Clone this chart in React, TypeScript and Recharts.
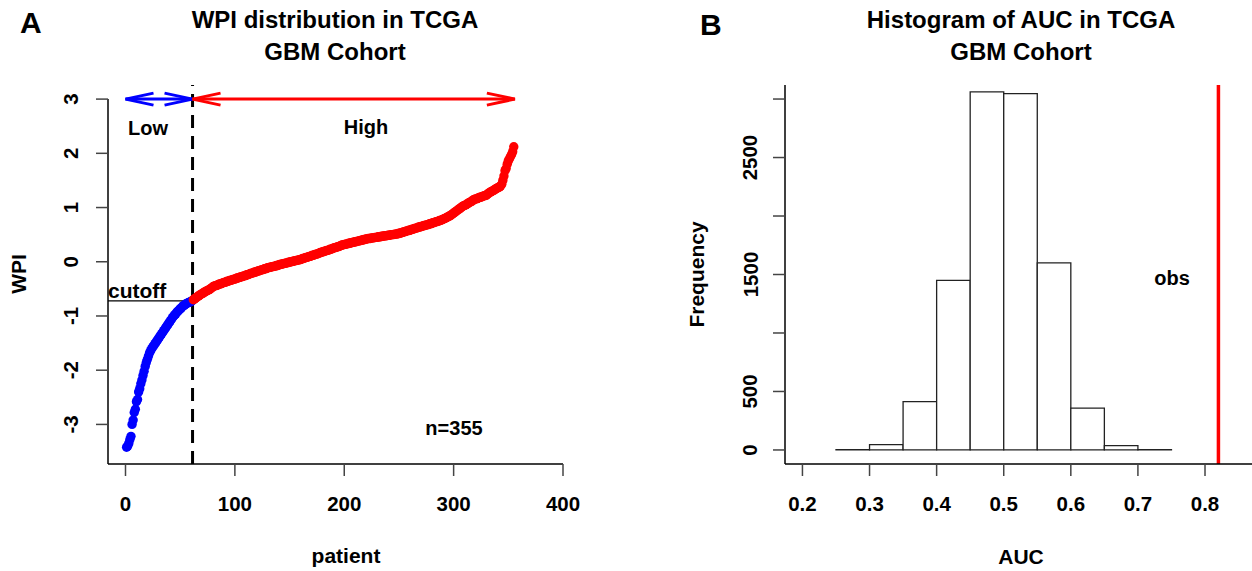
import {
	ComposedChart,
	ReferenceArea,
	ReferenceLine,
	Scatter,
	ScatterChart,
	XAxis,
	YAxis,
} from 'recharts'

const FONT = '"Liberation Sans", Arial, Helvetica, sans-serif'

// sorted WPI per patient (1..355)
const wpiSorted = [
	-3.42, -3.4, -3.35, -3.28, -3.22, -3.0, -2.92, -2.78, -2.72, -2.58,
	-2.54, -2.4, -2.34, -2.25, -2.18, -2.1, -2.02, -1.93, -1.86, -1.8,
	-1.74, -1.68, -1.64, -1.6, -1.57, -1.54, -1.51, -1.48, -1.45, -1.42,
	-1.39, -1.36, -1.33, -1.3, -1.27, -1.24, -1.21, -1.18, -1.15, -1.12,
	-1.09, -1.06, -1.03, -1.0, -0.98, -0.96, -0.93, -0.91, -0.89, -0.87,
	-0.85, -0.83, -0.81, -0.8, -0.78, -0.77, -0.76, -0.75, -0.74, -0.73,
	-0.72,
	-0.7, -0.69, -0.67, -0.66, -0.64, -0.63, -0.61, -0.6, -0.59,
	-0.58, -0.56, -0.55, -0.54, -0.53, -0.52, -0.51, -0.49, -0.48, -0.46,
	-0.45, -0.44, -0.44, -0.43, -0.42, -0.41, -0.41, -0.4, -0.39, -0.38,
	-0.38, -0.37, -0.36, -0.36, -0.35, -0.34, -0.34, -0.33, -0.32, -0.32,
	-0.31, -0.3, -0.3, -0.29, -0.28, -0.28, -0.27, -0.26, -0.26, -0.25,
	-0.24, -0.24, -0.23, -0.22, -0.21, -0.21, -0.2, -0.19, -0.19, -0.18,
	-0.17, -0.17, -0.16, -0.15, -0.15, -0.14, -0.13, -0.13, -0.12, -0.11,
	-0.11, -0.1, -0.1, -0.09, -0.09, -0.08, -0.08, -0.07, -0.07, -0.06,
	-0.05, -0.05, -0.04, -0.04, -0.03, -0.03, -0.02, -0.02, -0.01, -0.01,
	0.0, 0.0, 0.01, 0.01, 0.02, 0.02, 0.03, 0.03, 0.04, 0.04,
	0.05, 0.06, 0.06, 0.07, 0.08, 0.08, 0.09, 0.1, 0.1, 0.11,
	0.12, 0.12, 0.13, 0.14, 0.14, 0.15, 0.16, 0.17, 0.17, 0.18,
	0.19, 0.19, 0.2, 0.21, 0.21, 0.22, 0.23, 0.23, 0.24, 0.25,
	0.26, 0.26, 0.27, 0.28, 0.28, 0.29, 0.3, 0.31, 0.31, 0.32,
	0.32, 0.33, 0.33, 0.34, 0.34, 0.35, 0.35, 0.36, 0.36, 0.37,
	0.37, 0.38, 0.38, 0.39, 0.39, 0.4, 0.4, 0.41, 0.41, 0.42,
	0.42, 0.43, 0.43, 0.43, 0.44, 0.44, 0.44, 0.45, 0.45, 0.45,
	0.46, 0.46, 0.46, 0.47, 0.47, 0.47, 0.48, 0.48, 0.48, 0.49,
	0.49, 0.49, 0.5, 0.5, 0.5, 0.51, 0.51, 0.51, 0.52, 0.52,
	0.53, 0.53, 0.54, 0.55, 0.55, 0.56, 0.57, 0.57, 0.58, 0.58,
	0.59, 0.6, 0.6, 0.61, 0.62, 0.62, 0.63, 0.64, 0.64, 0.65,
	0.65, 0.66, 0.67, 0.67, 0.68, 0.68, 0.69, 0.7, 0.7, 0.71,
	0.72, 0.72, 0.73, 0.74, 0.74, 0.75, 0.76, 0.76, 0.77, 0.78,
	0.79, 0.8, 0.81, 0.82, 0.83, 0.84, 0.85, 0.87, 0.88, 0.9,
	0.91, 0.93, 0.94, 0.96, 0.97, 0.99, 1.0, 1.02, 1.03, 1.04,
	1.05, 1.06, 1.07, 1.09, 1.1, 1.11, 1.12, 1.14, 1.15, 1.16,
	1.16, 1.17, 1.18, 1.19, 1.19, 1.2, 1.21, 1.22, 1.22, 1.23,
	1.25, 1.26, 1.28, 1.29, 1.3, 1.31, 1.32, 1.34, 1.35, 1.36,
	1.37, 1.38, 1.4, 1.43, 1.5, 1.58, 1.68, 1.72, 1.8, 1.86,
	1.9, 1.94, 1.98, 2.03, 2.12,
]
const lowCount = 61
const cutoffPatient = 61.3
const cutoffWpi = -0.72
const patientTicks = [0, 100, 200, 300, 400]
const wpiTicks = [-3, -2, -1, 0, 1, 2, 3]

// permutation AUC histogram (bins of 0.05)
const aucBinStarts = [0.25, 0.3, 0.35, 0.4, 0.45, 0.5, 0.55, 0.6, 0.65, 0.7]
const aucBinCounts = [3, 45, 414, 1449, 3061, 3047, 1600, 357, 37, 3]
const aucBinWidth = 0.05
const observedAuc = 0.82
const aucTicks = [0.2, 0.3, 0.4, 0.5, 0.6, 0.7, 0.8]
const freqTicks = [0, 500, 1000, 1500, 2000, 2500, 3000]
const freqLabels = [0, 500, 1500, 2500]

const points = wpiSorted.map((wpi, i) => ({ patient: i + 1, wpi }))
const lowPoints = points.slice(0, lowCount)
const highPoints = points.slice(lowCount)
const bins = aucBinStarts.map((start, i) => ({
	start,
	end: start + aucBinWidth,
	mid: start + aucBinWidth / 2,
	count: aucBinCounts[i],
}))

const dot = (color: string) => (p: any) => (
	<circle cx={p.cx} cy={p.cy} r={4.7} fill={color} />
)

const arrow = (color: string) => (p: any) => {
	const { x1, y1, x2, y2 } = p
	const len = 28
	const half = 6
	return (
		<g stroke={color} strokeWidth={3} fill='none'>
			<line x1={x1} y1={y1} x2={x2} y2={y2} />
			<polyline points={`${x1 + len},${y1 - half} ${x1},${y1} ${x1 + len},${y1 + half}`} />
			<polyline points={`${x2 - len},${y2 - half} ${x2},${y2} ${x2 - len},${y2 + half}`} />
		</g>
	)
}

const bottomTick = (p: any) => (
	<text
		x={p.x}
		y={p.y + 33}
		textAnchor='middle'
		style={{ fontFamily: FONT, fontSize: 20.5, fontWeight: 700, fill: '#000' }}
	>
		{p.payload.value}
	</text>
)

const leftTick = (labelX: number, shown?: number[]) => (p: any) => {
	const v = p.payload.value
	if (shown && !shown.includes(v)) return <g />
	return (
		<text
			x={labelX}
			y={p.y}
			transform={`rotate(-90, ${labelX}, ${p.y})`}
			textAnchor='middle'
			dominantBaseline='central'
			style={{ fontFamily: FONT, fontSize: 20.5, fontWeight: 700, fill: '#000' }}
		>
			{v}
		</text>
	)
}

const WpiPanel = () => (
	<ScatterChart
		width={600}
		height={571}
		margin={{ top: 85, right: 37, bottom: 67, left: 48 }}
	>
		<XAxis
			type='number'
			dataKey='patient'
			domain={[-16, 400]}
			allowDataOverflow
			ticks={patientTicks}
			height={40}
			tickSize={12}
			axisLine={{ stroke: '#000', strokeWidth: 1.5 }}
			tickLine={{ stroke: '#444', strokeWidth: 1.5 }}
			tick={bottomTick}
		/>
		<YAxis
			type='number'
			dataKey='wpi'
			domain={[-3.73, 3.26]}
			allowDataOverflow
			ticks={wpiTicks}
			width={60}
			tickSize={12}
			axisLine={false}
			tickLine={{ stroke: '#444', strokeWidth: 1.5 }}
			tick={leftTick(70.5)}
		/>
		<ReferenceLine
			segment={[
				{ x: -16, y: 3 },
				{ x: -16, y: -3.73 },
			]}
			stroke='#000'
			strokeWidth={1.5}
			ifOverflow='visible'
		/>
		<ReferenceLine
			segment={[
				{ x: -16, y: cutoffWpi },
				{ x: cutoffPatient, y: cutoffWpi },
			]}
			stroke='#000'
			strokeWidth={1.3}
			ifOverflow='visible'
		/>
		<Scatter data={lowPoints} isAnimationActive={false} shape={dot('#0000ff')} />
		<Scatter data={highPoints} isAnimationActive={false} shape={dot('#ff0000')} />
		<ReferenceLine
			x={cutoffPatient}
			stroke='#000'
			strokeWidth={3}
			strokeDasharray='13 8'
			ifOverflow='visible'
		/>
		<ReferenceLine
			segment={[
				{ x: 0, y: 3 },
				{ x: cutoffPatient, y: 3 },
			]}
			ifOverflow='visible'
			shape={arrow('#0000ff')}
		/>
		<ReferenceLine
			segment={[
				{ x: cutoffPatient, y: 3 },
				{ x: 356, y: 3 },
			]}
			ifOverflow='visible'
			shape={arrow('#ff0000')}
		/>
	</ScatterChart>
)

const AucPanel = () => (
	<ComposedChart
		width={640}
		height={571}
		data={bins}
		margin={{ top: 85, right: 24, bottom: 67, left: 85 }}
	>
		<XAxis
			type='number'
			dataKey='mid'
			domain={[0.174, 0.876]}
			allowDataOverflow
			ticks={aucTicks}
			height={40}
			tickSize={12}
			axisLine={{ stroke: '#000', strokeWidth: 1.5 }}
			tickLine={{ stroke: '#444', strokeWidth: 1.5 }}
			tick={bottomTick}
		/>
		<YAxis
			type='number'
			dataKey='count'
			domain={[-120, 3120]}
			allowDataOverflow
			ticks={freqTicks}
			width={60}
			tickSize={12}
			axisLine={{ stroke: '#000', strokeWidth: 1.5 }}
			tickLine={{ stroke: '#444', strokeWidth: 1.5 }}
			tick={leftTick(110, freqLabels)}
		/>
		{bins.map(b => (
			<ReferenceArea
				key={b.start}
				x1={b.start}
				x2={b.end}
				y1={0}
				y2={b.count}
				fill='#fff'
				fillOpacity={1}
				stroke='#222'
				strokeWidth={1.3}
				ifOverflow='visible'
			/>
		))}
		<ReferenceLine x={observedAuc} stroke='#ff0000' strokeWidth={3.5} />
	</ComposedChart>
)

const txt = { fontFamily: FONT, fontWeight: 700, fill: '#000' }

export default function App() {
	return (
		<div
			style={{
				position: 'absolute',
				left: 0,
				top: 0,
				width: 1252,
				height: 571,
				overflow: 'hidden',
				background: '#fff',
			}}
		>
			<div style={{ position: 'absolute', left: 0, top: 0 }}>
				<WpiPanel />
			</div>
			<div style={{ position: 'absolute', left: 640, top: 0 }}>
				<AucPanel />
			</div>
			<svg
				width={1252}
				height={571}
				style={{ position: 'absolute', left: 0, top: 0, pointerEvents: 'none' }}
			>
				<text x={20} y={33} style={{ ...txt, fontSize: 30 }}>A</text>
				<text x={700} y={35} style={{ ...txt, fontSize: 30 }}>B</text>

				<text x={335} y={28} textAnchor='middle' style={{ ...txt, fontSize: 24 }}>
					WPI distribution in TCGA
				</text>
				<text x={335} y={60} textAnchor='middle' style={{ ...txt, fontSize: 24 }}>
					GBM Cohort
				</text>
				<text x={1021} y={28} textAnchor='middle' style={{ ...txt, fontSize: 24 }}>
					Histogram of AUC in TCGA
				</text>
				<text x={1021} y={60} textAnchor='middle' style={{ ...txt, fontSize: 24 }}>
					GBM Cohort
				</text>

				<text x={346} y={563} textAnchor='middle' style={{ ...txt, fontSize: 21 }}>
					patient
				</text>
				<text x={1021} y={564} textAnchor='middle' style={{ ...txt, fontSize: 21 }}>
					AUC
				</text>
				<text
					x={18}
					y={274}
					transform='rotate(-90, 18, 274)'
					textAnchor='middle'
					dominantBaseline='central'
					style={{ ...txt, fontSize: 21 }}
				>
					WPI
				</text>
				<text
					x={696}
					y={274.5}
					transform='rotate(-90, 696, 274.5)'
					textAnchor='middle'
					dominantBaseline='central'
					style={{ ...txt, fontSize: 21 }}
				>
					Frequency
				</text>

				<text x={148} y={135} textAnchor='middle' style={{ ...txt, fontSize: 20 }}>
					Low
				</text>
				<text x={366} y={134} textAnchor='middle' style={{ ...txt, fontSize: 20 }}>
					High
				</text>
				<text x={454} y={435} textAnchor='middle' style={{ ...txt, fontSize: 20 }}>
					n=355
				</text>
				<text x={108} y={298} style={{ ...txt, fontSize: 21 }}>
					cutoff
				</text>
				<text x={1172} y={285} textAnchor='middle' style={{ ...txt, fontSize: 20 }}>
					obs
				</text>
			</svg>
		</div>
	)
}
